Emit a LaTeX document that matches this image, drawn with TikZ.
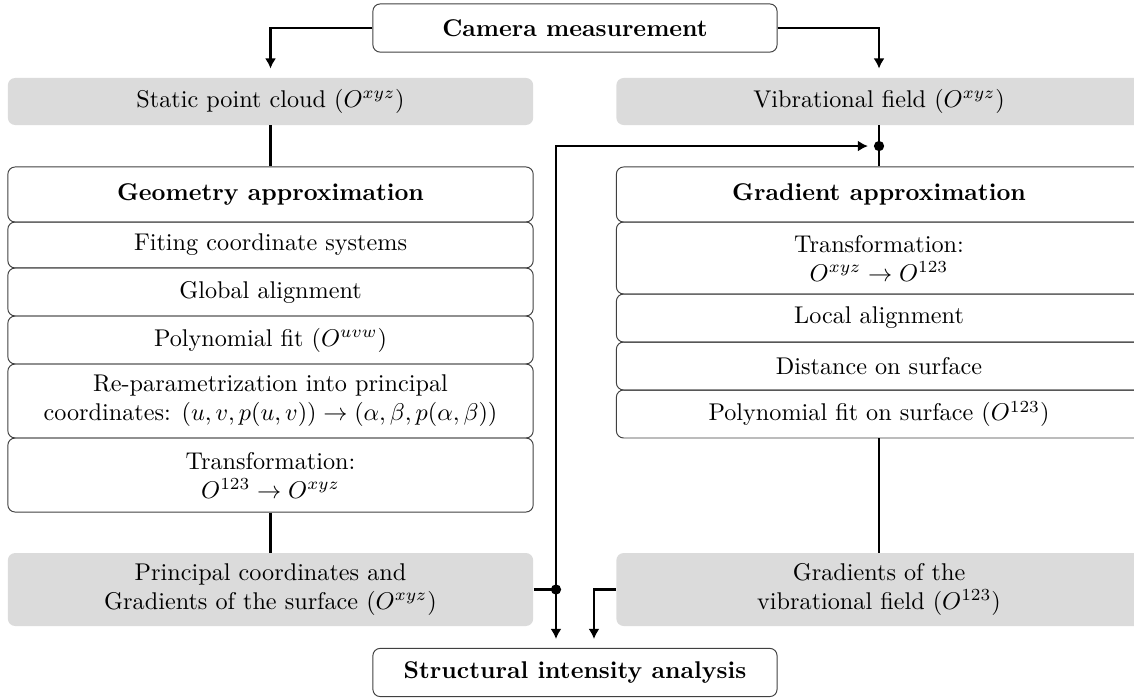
\documentclass[tikz,border=0pt]{standalone}
\usetikzlibrary{positioning,arrows.meta}
\tikzset{
  mainbox/.style={draw=black!75,rounded corners=3pt,minimum width=5.87cm,minimum height=0.70cm,font=\bfseries},
  stepbox/.style={draw=black!75,rounded corners=3pt,minimum width=7.63cm,inner sep=0pt,align=center},
  graybox/.style={fill=black!14,rounded corners=3pt,minimum width=7.63cm,inner sep=0pt,align=center},
  link/.style={line width=0.9pt},
  arr/.style={line width=0.9pt,-{Latex[length=4.2pt,width=4.6pt]},shorten >=0.13cm},
  junct/.style={circle,fill,inner sep=1.5pt},
}
\begin{document}
\begin{tikzpicture}
\useasboundingbox (0,0) rectangle (16.47,-10.137);
% top and bottom
\node[mainbox] (cam) at (8.351,-0.407) {Camera measurement};
\node[mainbox] (struct) at (8.351,-9.767) {Structural intensity analysis};
% measured data
\node[graybox,minimum height=0.683cm] (static) at (3.929,-1.474) {Static point cloud ($O^{xyz}$)};
\node[graybox,minimum height=0.683cm] (vib) at (12.767,-1.474) {Vibrational field ($O^{xyz}$)};
% geometry approximation
\node[stepbox,minimum height=0.80cm,font=\bfseries] (geohead) at (3.929,-2.825) {Geometry approximation};
\node[stepbox,minimum height=0.668cm] (geofit) at (3.929,-3.558) {Fiting coordinate systems};
\node[stepbox,minimum height=0.697cm] (geoalign) at (3.929,-4.241) {Global alignment};
\node[stepbox,minimum height=0.697cm] (geopoly) at (3.929,-4.938) {Polynomial fit ($O^{uvw}$)};
\node[stepbox,minimum height=1.075cm] (georepar) at (3.929,-5.824) {Re-parametrization into principal\\coordinates: $(u,v,p(u,v))\rightarrow(\alpha,\beta,p(\alpha,\beta))$};
\node[stepbox,minimum height=1.075cm] (geotrans) at (3.929,-6.899) {Transformation:\\$O^{123}\rightarrow O^{xyz}$};
% gradient approximation
\node[stepbox,minimum height=0.80cm,font=\bfseries] (gradhead) at (12.767,-2.825) {Gradient approximation};
\node[stepbox,minimum height=1.046cm] (gradtrans) at (12.767,-3.747) {Transformation:\\$O^{xyz}\rightarrow O^{123}$};
\node[stepbox,minimum height=0.697cm] (gradalign) at (12.767,-4.619) {Local alignment};
\node[stepbox,minimum height=0.697cm] (graddist) at (12.767,-5.316) {Distance on surface};
\node[stepbox,minimum height=0.697cm] (gradfit) at (12.767,-6.013) {Polynomial fit on surface ($O^{123}$)};
% results
\node[graybox,minimum height=1.06cm] (principal) at (3.929,-8.562) {Principal coordinates and\\Gradients of the surface ($O^{xyz}$)};
\node[graybox,minimum height=1.06cm] (gradients) at (12.767,-8.562) {Gradients of the\\vibrational field ($O^{123}$)};
% junctions
\node[junct] (jtop) at (12.767,-2.121) {};
\node[junct] (jbot) at (8.075,-8.562) {};
% connectors
\draw[arr] (cam.west) -| (static.north);
\draw[arr] (cam.east) -| (vib.north);
\draw[link] (static.south) -- (geohead.north);
\draw[link] (vib.south) -- (gradhead.north);
\draw[link] (geotrans.south) -- (principal.north);
\draw[link] (gradfit.south) -- (gradients.north);
\draw[link] (principal.east) -- (jbot.center);
\draw[arr,shorten >=0.08cm] (jbot.center) |- (jtop);
\draw[arr] (jbot.center) -- ([xshift=-0.276cm]struct.north);
\draw[arr] (gradients.west) -| ([xshift=0.276cm]struct.north);
\end{tikzpicture}
\end{document}
